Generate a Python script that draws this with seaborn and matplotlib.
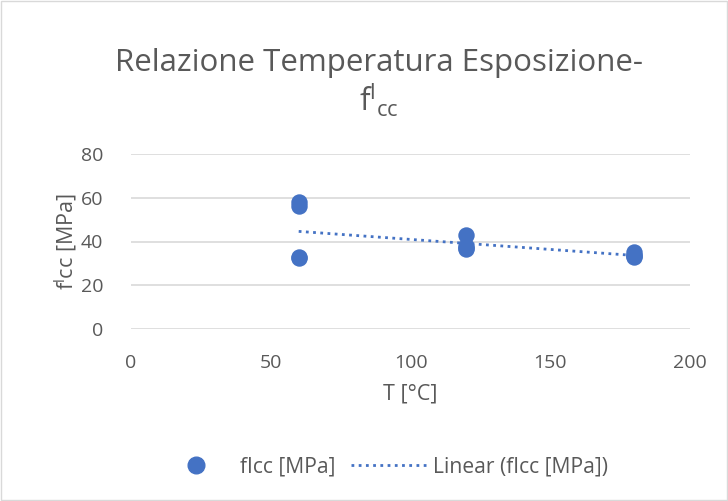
import matplotlib
matplotlib.use("Agg")
import matplotlib.pyplot as plt
import seaborn as sns
import numpy as np
import pandas as pd
from matplotlib.lines import Line2D

# Data
temperature = [60, 60, 60, 60, 120, 120, 120, 120, 180, 180, 180, 180]
fcc = [58.0, 56.0, 33.0, 32.5, 43.0, 38.0, 37.0, 36.5, 35.0, 34.0, 33.5, 33.0]
x_ticks = [0, 50, 100, 150, 200]
y_ticks = [0, 20, 40, 60, 80]

df = pd.DataFrame({"T": temperature, "fcc": fcc})

sns.set_theme(style="white")
plt.rcParams['font.family'] = ['Open Sans', 'DejaVu Sans']
plt.rcParams['mathtext.fontset'] = 'custom'
plt.rcParams['mathtext.rm'] = 'Open Sans'
text_color = "#595959"
blue = "#4472C4"

fig = plt.figure(figsize=(7.28, 5.01), dpi=100)
fig.patch.set_facecolor("white")
ax = fig.add_axes([131/728, 1-329/501, (690-131)/728, (329-154)/501])

sns.scatterplot(data=df, x="T", y="fcc", ax=ax, s=140, color=blue,
                edgecolor=blue, linewidth=0, zorder=3, legend=False)

# linear trend from data
coef = np.polyfit(df["T"], df["fcc"], 1)
xs = np.array([df["T"].min(), df["T"].max()])
sns.lineplot(x=xs, y=np.polyval(coef, xs), ax=ax, color=blue, lw=2,
             linestyle=(0, (1, 1.6)), zorder=4, legend=False)

ax.set_xlim(0, 200)
ax.set_ylim(0, 80)
ax.set_xticks(x_ticks)
ax.set_yticks(y_ticks)
ax.yaxis.grid(True, color="#d9d9d9", lw=1.2)
ax.set_axisbelow(True)
for s in ax.spines.values():
    s.set_visible(False)
ax.tick_params(axis="both", length=0, labelsize=14, labelcolor=text_color)
ax.tick_params(axis="y", pad=20)
ax.tick_params(axis="x", pad=18)
ax.set_xlabel("T [°C]", fontsize=15.5, color=text_color, labelpad=8)
ax.set_ylabel("f$^{\\mathrm{l}}$cc [MPa]", fontsize=15.5, color=text_color, labelpad=1)

fig.text(0.52, 1-63/501, "Relazione Temperatura Esposizione-", ha="center", va="center",
         fontsize=22.5, color=text_color)
fig.text(0.52, 1-100/501, "f$^{\\mathrm{l}}$$_{\\mathrm{cc}}$", ha="center", va="center",
         fontsize=22.5, color=text_color)

# legend
handles = [Line2D([], [], marker="o", color=blue, lw=0, markersize=12),
           Line2D([], [], color=blue, lw=2, linestyle=(0, (1, 1.6)))]
fig.legend(handles, ["fIcc [MPa]", "Linear (fIcc [MPa])"], loc="center",
           bbox_to_anchor=(0.526, 1-467/501), ncol=2, frameon=False,
           fontsize=15.2, labelcolor=text_color, handlelength=3.6, columnspacing=0.7,
           handletextpad=0.3)

# border
fig.add_artist(plt.Rectangle((0.001, 0.001), 0.998, 0.998, transform=fig.transFigure,
                             fill=False, edgecolor="#d9d9d9", lw=1))

fig.savefig("out.png", dpi=100, facecolor="white")
